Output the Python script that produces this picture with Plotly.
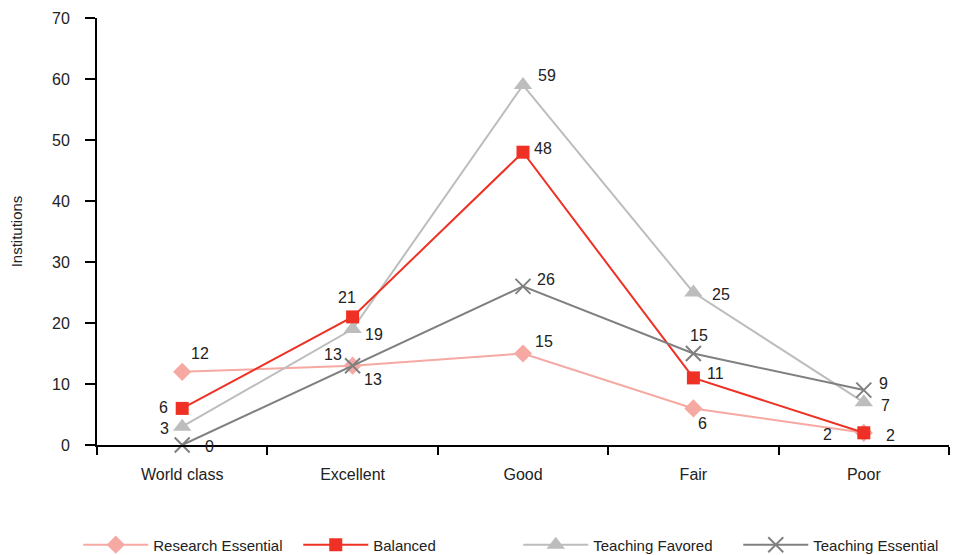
import plotly.graph_objects as go

categories = ["World class", "Excellent", "Good", "Fair", "Poor"]

research_essential = [12, 13, 15, 6, 2]
balanced = [6, 21, 48, 11, 2]
teaching_favored = [3, 19, 59, 25, 7]
teaching_essential = [0, 13, 26, 15, 9]

y_ticks = [0, 10, 20, 30, 40, 50, 60, 70]

FONT = "Liberation Sans Narrow, Arial Narrow, Liberation Sans, Arial, sans-serif"
TEXT = "#222222"

series = [
    # name, values, colour, marker symbol, marker size, legend rank, label offsets (dx, dy) per point
    ("Research Essential", research_essential, "#F5A9A2", "diamond", 14, 1,
     [(18, -18), (-20, -11), (21, -12), (9, 15), (-36, 2)]),
    ("Teaching Favored", teaching_favored, "#BDBDBD", "triangle-up", 16, 3,
     [(-18, 2), (21, 5), (24, -10), (28, 2), (22, 3)]),
    ("Balanced", balanced, "#EE3124", "square", 13, 2,
     [(-19, -1), (-6, -19), (20, -4), (22, -4), (27, 3)]),
    ("Teaching Essential", teaching_essential, "#808080", "x-thin-open", 15, 4,
     [(27, 1), (20, 14), (23, -7), (6, -18), (20, -7)]),
]

fig = go.Figure()
annotations = []
for name, vals, color, symbol, size, rank, offsets in series:
    marker = dict(symbol=symbol, size=size, color=color)
    if symbol.startswith("x-thin"):
        marker["line"] = dict(color=color, width=2)
    fig.add_trace(go.Scatter(
        x=categories, y=vals, name=name, mode="lines+markers",
        line=dict(color=color, width=2), marker=marker,
        legendrank=rank, cliponaxis=False,
    ))
    for cat, v, (dx, dy) in zip(categories, vals, offsets):
        annotations.append(dict(
            x=cat, y=v, text=str(v), showarrow=False,
            xshift=dx, yshift=-dy,
            font=dict(family=FONT, size=16, color=TEXT),
        ))

fig.update_layout(
    width=953, height=555,
    margin=dict(l=97, r=4, t=18, b=110, autoexpand=False),
    paper_bgcolor="white", plot_bgcolor="white",
    font=dict(family=FONT, size=16, color=TEXT),
    showlegend=True,
    legend=dict(
        orientation="h", x=-0.022, xanchor="left",
        y=-0.234, yanchor="middle",
        font=dict(family=FONT, size=15, color=TEXT),
        itemwidth=65, tracegroupgap=0,
        entrywidth=140, entrywidthmode="pixels",
    ),
    annotations=annotations,
    xaxis=dict(
        type="category", categoryorder="array", categoryarray=categories,
        range=[-0.5, 4.5],
        showline=True, linecolor="black", linewidth=2,
        ticks="outside", tickson="boundaries", ticklen=8, tickwidth=2, tickcolor="black",
        ticklabelstandoff=14,
        showgrid=False, zeroline=False,
        tickfont=dict(family=FONT, size=16, color=TEXT),
    ),
    yaxis=dict(
        range=[0, 70], tickvals=y_ticks,
        showline=True, linecolor="black", linewidth=2,
        ticks="outside", ticklen=10, tickwidth=2, tickcolor="black",
        ticklabelstandoff=12,
        showgrid=False, zeroline=False,
        tickfont=dict(family=FONT, size=16, color=TEXT),
        title=dict(text="Institutions", standoff=26,
                   font=dict(family=FONT, size=15, color=TEXT)),
    ),
)

fig.write_html("out.html")
